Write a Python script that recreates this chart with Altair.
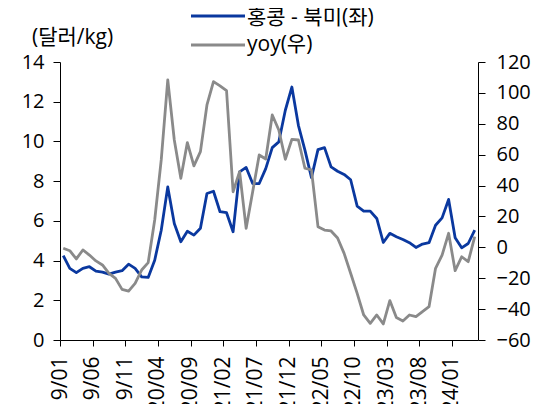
import altair as alt
import pandas as pd

# ---- data (monthly, 2019/01 .. 2024/04) ----
tick_labels = ["19/01", "19/06", "19/11", "20/04", "20/09", "21/02", "21/07",
               "21/12", "22/05", "22/10", "23/03", "23/08", "24/01"]

hk_na = [4.25, 3.61, 3.39, 3.61, 3.69, 3.47, 3.42, 3.32, 3.42, 3.49,
         3.82, 3.61, 3.18, 3.15, 4.02, 5.53, 7.71, 5.87, 4.95, 5.48,
         5.28, 5.63, 7.38, 7.49, 6.46, 6.41, 5.45, 8.47, 8.69, 7.88,
         7.88, 8.63, 9.69, 9.98, 11.57, 12.74, 10.81, 9.56, 8.18, 9.59,
         9.69, 8.72, 8.50, 8.34, 8.07, 6.74, 6.49, 6.49, 6.12, 4.91,
         5.37, 5.20, 5.06, 4.90, 4.66, 4.83, 4.90, 5.78, 6.15, 7.08,
         5.15, 4.64, 4.86, 5.53]

yoy = [-0.6, -2.2, -7.5, -1.7, -5.0, -8.8, -11.4, -16.8, -20.1, -27.2,
       -28.3, -23.3, -14.7, -9.9, 17.7, 56.6, 108.4, 69.5, 44.7, 67.8,
       52.7, 62.0, 92.2, 107.3, 104.5, 101.4, 36.0, 49.0, 12.3, 36.0,
       59.8, 57.2, 85.7, 76.0, 57.0, 69.9, 69.5, 51.2, 50.1, 13.4,
       11.2, 10.6, 6.0, -3.9, -16.8, -29.8, -43.8, -49.2, -43.8, -49.6,
       -34.5, -45.5, -47.7, -43.8, -44.9, -41.7, -38.4, -13.6, -5.0, 9.1,
       -15.1, -6.1, -9.3, 6.9]

series_names = ["홍콩 - 북미(좌)", "yoy(우)"]
left_unit = "(달러/kg)"

left_ticks = [0, 2, 4, 6, 8, 10, 12, 14]
right_ticks = [-60, -40, -20, 0, 20, 40, 60, 80, 100, 120]

df = pd.DataFrame({"idx": list(range(len(hk_na))), "hk": hk_na, "yoy": yoy})
one = pd.DataFrame({"k": [0]})

FONT = "'Open Sans', 'Noto Sans CJK KR', sans-serif"
BLUE = "#0a389f"
GRAY = "#8a8a8a"
FS_TICK = 20
FS_X = 21
FS_TXT = 21

label_expr = "[" + ",".join("'%s'" % t for t in tick_labels) + "][round((datum.value + 0.5) / 5)]"

x_enc = alt.X(
    "idx:Q",
    scale=alt.Scale(domain=[-0.5, len(hk_na) - 0.5], nice=False, zero=False),
    axis=alt.Axis(
        values=[-0.5 + 5 * k for k in range(len(tick_labels))],
        labelExpr=label_expr, labelAngle=270, title=None, grid=False,
        tickSize=6, labelPadding=10, labelFontSize=FS_X, labelFont=FONT,
        labelColor="#000000", domainColor="#000000", tickColor="#000000",
        labelOverlap=False, labelFlush=False,
    ),
)

blue_line = alt.Chart(df).mark_line(color=BLUE, strokeWidth=2.8, strokeJoin="round").encode(
    x=x_enc,
    y=alt.Y("hk:Q", scale=alt.Scale(domain=[0, 14], nice=False),
            axis=alt.Axis(orient="left", values=left_ticks, title=None, grid=False,
                          tickSize=7, labelPadding=9, labelFontSize=FS_TICK, labelFont=FONT,
                          labelColor="#000000", domainColor="#000000", tickColor="#000000")),
)

gray_line = alt.Chart(df).mark_line(color=GRAY, strokeWidth=2.8, strokeJoin="round").encode(
    x=x_enc,
    y=alt.Y("yoy:Q", scale=alt.Scale(domain=[-60, 120], nice=False),
            axis=alt.Axis(orient="right", values=right_ticks, title=None, grid=False,
                          tickSize=7, labelPadding=11, labelFontSize=FS_TICK, labelFont=FONT,
                          labelColor="#000000", domainColor="#000000", tickColor="#000000")),
)

unit_text = alt.Chart(one).mark_text(align="left", baseline="middle", font=FONT,
                                      fontSize=FS_TXT, color="#000000").encode(
    x=alt.value(-28), y=alt.value(-24), text=alt.value(left_unit))

leg_rule1 = alt.Chart(one).mark_rule(color=BLUE, strokeWidth=2.8).encode(
    x=alt.value(131), x2=alt.value(185), y=alt.value(-46))
leg_rule2 = alt.Chart(one).mark_rule(color=GRAY, strokeWidth=2.8).encode(
    x=alt.value(131), x2=alt.value(185), y=alt.value(-17))
leg_text1 = alt.Chart(one).mark_text(align="left", baseline="middle", font=FONT,
                                      fontSize=FS_TXT, color="#000000").encode(
    x=alt.value(187), y=alt.value(-44.5), text=alt.value(series_names[0]))
leg_text2 = alt.Chart(one).mark_text(align="left", baseline="middle", font=FONT,
                                      fontSize=FS_TXT, color="#000000").encode(
    x=alt.value(187), y=alt.value(-17.5), text=alt.value(series_names[1]))

chart = alt.layer(
    blue_line, gray_line, unit_text, leg_rule1, leg_rule2, leg_text1, leg_text2
).resolve_scale(y="independent").properties(
    width=418, height=278,
    padding={"left": 52, "top": 54, "right": 59, "bottom": 64},
    autosize=alt.AutoSizeParams(type="none"),
    background="white",
).configure_view(stroke=None)

chart.save("out.html", embed_options={"renderer": "svg", "actions": False})
